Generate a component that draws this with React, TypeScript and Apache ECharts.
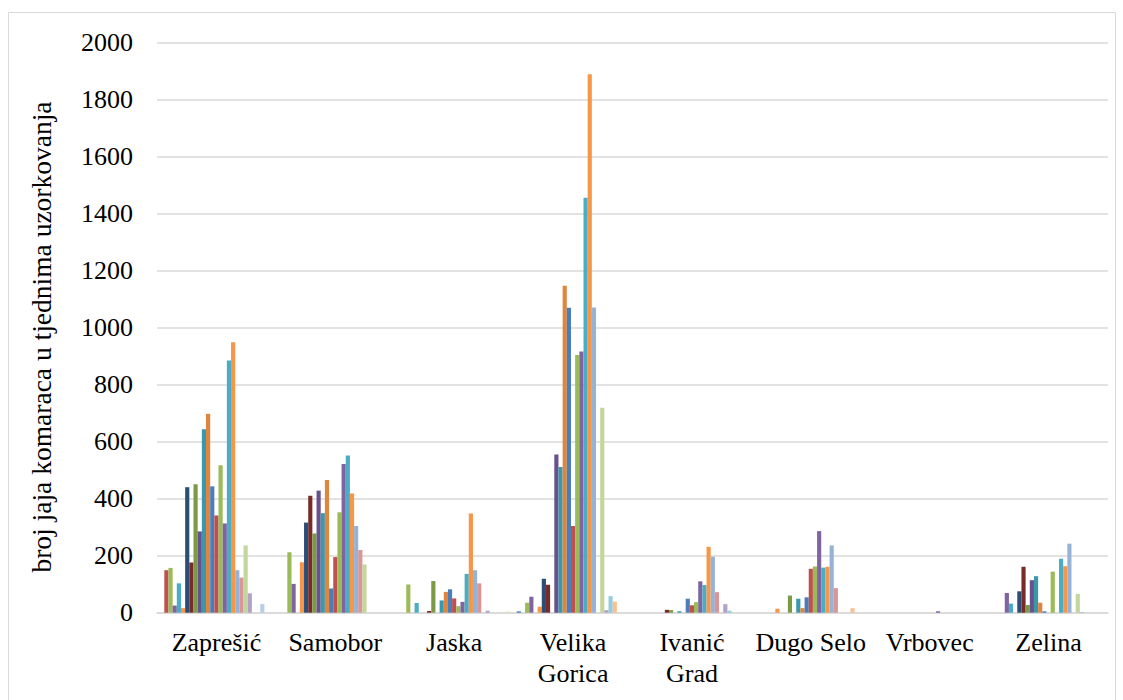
import React, { useEffect, useRef } from "react";
import * as echarts from "echarts";

const categories = ["Zaprešić", "Samobor", "Jaska", "Velika Gorica", "Ivanić Grad", "Dugo Selo", "Vrbovec", "Zelina"];
const yTicks = { min: 0, max: 2000, interval: 200 };
const yTitle = "broj jaja komaraca u tjednima uzorkovanja";

// values per category, one entry per sampling week (27 series)
const zapresic = [null, 149, 157, 25, 103, 16, 440, 176, 450, 285, 643, 698, 443, 341, 517, 313, 884, 948, 149, 123, 236, 68, null, null, 30, null, null];
const samobor = [null, null, 212, 101, null, 177, 316, 410, 278, 428, 349, 465, 85, 195, 352, 521, 551, 418, 304, 220, 169, null, null, null, null, null, null];
const jaska = [null, null, 99, null, 34, null, null, 6, 111, null, 43, 73, 82, 50, 23, 38, 136, 348, 149, 103, null, 7, null, null, null, null, 4];
const velikaGorica = [5, null, 35, 56, null, 21, 119, 98, null, 555, 511, 1146, 1069, 304, 904, 916, 1455, 1888, 1070, null, 719, 9, 58, 39, null, null, null];
const ivanicGrad = [null, null, null, null, null, null, null, 10, 9, null, 5, null, 49, 26, 37, 110, 97, 231, 196, 72, null, 30, 7, null, null, null, null];
const dugoSelo = [null, null, null, null, null, 14, null, null, 60, null, 49, 16, 54, 154, 162, 286, 158, 161, 236, 86, null, null, null, 16, null, null, null];
const vrbovec = [null, null, null, null, null, null, null, null, null, null, null, null, null, null, null, 5, null, null, null, null, null, null, null, null, null, null, null];
const zelina = [null, null, null, 69, 32, null, 75, 161, 27, 114, 128, 35, 5, null, 144, null, 189, 163, 242, null, 66, 2, null, null, null, null, null];

const byCategory = [zapresic, samobor, jaska, velikaGorica, ivanicGrad, dugoSelo, vrbovec, zelina];

const seriesColors = [
  "#4F81BD", "#C0504D", "#9BBB59", "#8064A2", "#4BACC6", "#F79646",
  "#2C4D75", "#772C2A", "#7C9A45", "#68518C", "#3A98AC", "#E0853C",
  "#4A7EBB", "#C0504D", "#9BBB59", "#8064A2", "#4BACC6", "#F79646",
  "#95B3D7", "#D99694", "#C3D69B", "#B2A2C7", "#93CDDD", "#FAC090",
  "#B9CDE5", "#E6B9B8", "#D7E4BD",
];

const FONT = "'Liberation Serif', 'Times New Roman', serif";

export default function App() {
  const ref = useRef<HTMLDivElement>(null);

  useEffect(() => {
    if (!ref.current) return;
    const chart = echarts.init(ref.current, undefined, { renderer: "svg" });
    const nSeries = seriesColors.length;
    const series = [];
    for (let s = 0; s < nSeries; s++) {
      series.push({
        type: "bar",
        name: "Tjedan " + (s + 1),
        data: byCategory.map((arr) => arr[s]),
        itemStyle: { color: seriesColors[s] },
        barGap: "0%",
        barCategoryGap: "5.26%",
      });
    }
    chart.setOption({
      animation: false,
      backgroundColor: "#ffffff",
      grid: { left: 157, right: 15, top: 42.3, bottom: 87.3, containLabel: false },
      xAxis: {
        type: "category",
        data: categories,
        axisLine: { lineStyle: { color: "#D9D9D9", width: 1.5 } },
        axisTick: { show: false },
        axisLabel: {
          fontFamily: FONT,
          fontSize: 26,
          color: "#000",
          margin: 14,
          lineHeight: 31,
          interval: 0,
          formatter: (v: string) => (v.length > 10 ? v.replace(" ", "\n") : v),
        },
      },
      yAxis: {
        type: "value",
        min: yTicks.min,
        max: yTicks.max,
        interval: yTicks.interval,
        axisLine: { show: false },
        axisTick: { show: false },
        axisLabel: {
          fontFamily: FONT,
          fontSize: 26,
          color: "#000",
          margin: 24,
          formatter: (v: number) => String(v),
        },
        splitLine: { lineStyle: { color: "#D9D9D9", width: 1.5 } },
      },
      graphic: [
        {
          type: "rect",
          shape: { x: 8.5, y: 12.5, width: 1107, height: 720 },
          style: { fill: "none", stroke: "#D9D9D9", lineWidth: 1 },
          silent: true,
        },
        {
          type: "text",
          x: 41,
          y: 337,
          rotation: Math.PI / 2,
          style: {
            text: yTitle,
            font: "27.5px " + FONT,
            fill: "#000",
            textAlign: "center",
            textVerticalAlign: "middle",
          },
        },
      ],
      series,
    });
    return () => chart.dispose();
  }, []);

  return (
    <div
      ref={ref}
      style={{ position: "fixed", left: 0, top: 0, width: 1123, height: 700, background: "#fff" }}
    />
  );
}
